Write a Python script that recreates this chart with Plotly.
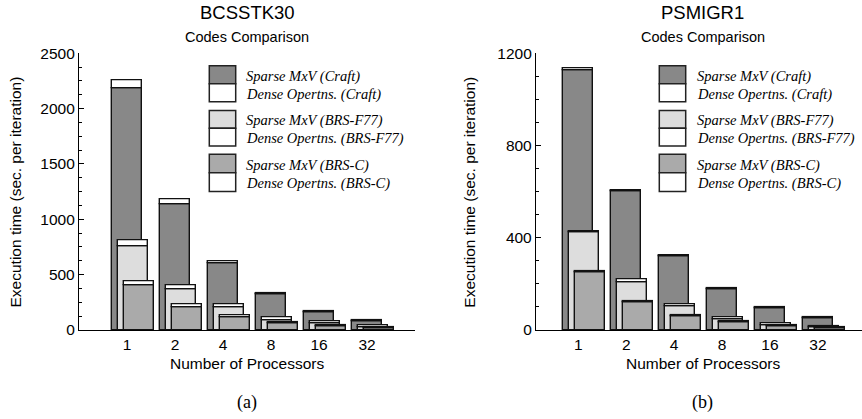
import plotly.graph_objects as go

W, H = 862, 419

procs = ["1", "2", "4", "8", "16", "32"]

# BCSSTK30 timings (sec. per iteration)
bc_craft_sparse = [2185, 1140, 602, 320, 160, 80]
bc_craft_dense = [75, 40, 18, 8, 7, 5]
bc_f77_sparse = [752, 367, 205, 92, 60, 28]
bc_f77_dense = [54, 35, 27, 24, 15, 17]
bc_c_sparse = [406, 205, 112, 60, 35, 16]
bc_c_dense = [36, 25, 21, 11, 10, 8]

# PSMIGR1 timings (sec. per iteration)
ps_craft_sparse = [1127, 600, 320, 178, 94, 50]
ps_craft_dense = [10, 7, 5, 4, 3, 3]
ps_f77_sparse = [425, 205, 102, 46, 22, 12]
ps_f77_dense = [4, 15, 9, 10, 6, 5]
ps_c_sparse = [250, 120, 59, 33, 17, 8]
ps_c_dense = [3, 4, 3, 3, 3, 2]

code_names = ["Craft", "BRS-F77", "BRS-C"]
sparse_colors = ["#888888", "#dddddd", "#aaaaaa"]
dense_color = "#ffffff"
bar_offsets = [-0.3125, -0.1875, -0.0625]
bar_width = 0.625

SANS = "Liberation Sans, Arial, sans-serif"
SERIF = "Liberation Serif, Times New Roman, serif"

fig = go.Figure()


def add_panel(xa, ya, series):
    for (sparse, dense), color, off in zip(series, sparse_colors, bar_offsets):
        fig.add_trace(go.Bar(
            x=procs, y=sparse, xaxis=xa, yaxis=ya,
            offset=off, width=bar_width,
            marker=dict(color=color, line=dict(color="#111111", width=1.4)),
            showlegend=False, hoverinfo="skip"))
        fig.add_trace(go.Bar(
            x=procs, y=dense, base=sparse, xaxis=xa, yaxis=ya,
            offset=off, width=bar_width,
            marker=dict(color=dense_color, line=dict(color="#111111", width=1.4)),
            showlegend=False, hoverinfo="skip"))


add_panel("x", "y", [(bc_craft_sparse, bc_craft_dense),
                     (bc_f77_sparse, bc_f77_dense),
                     (bc_c_sparse, bc_c_dense)])
add_panel("x2", "y2", [(ps_craft_sparse, ps_craft_dense),
                       (ps_f77_sparse, ps_f77_dense),
                       (ps_c_sparse, ps_c_dense)])


def px(x):
    return x / W


def py(y):
    return 1 - y / H


y_dom = [py(330), py(53.3)]

axis_common = dict(
    showgrid=False, zeroline=False, showline=True, linecolor="black",
    linewidth=1.3, automargin=False,
    tickfont=dict(family=SANS, size=15.5, color="black"),
)

fig.update_layout(
    width=W, height=H,
    margin=dict(l=0, r=0, t=0, b=0, pad=0, autoexpand=False),
    paper_bgcolor="white", plot_bgcolor="white",
    barmode="overlay", bargap=0,
    xaxis=dict(domain=[px(79), px(415)], range=[-1, 6], type="category",
               ticks="", anchor="y", **axis_common),
    yaxis=dict(domain=y_dom, range=[0, 2500], tickvals=[0, 500, 1000, 1500, 2000, 2500],
               ticks="inside", ticklen=5, tickcolor="black", anchor="x",
               minor=dict(ticks="inside", dtick=125, ticklen=3, tickcolor="black"),
               **axis_common),
    xaxis2=dict(domain=[px(536), 1.0], range=[-0.883, 5.92], type="category",
                ticks="", anchor="y2", **axis_common),
    yaxis2=dict(domain=y_dom, range=[0, 1200], tickvals=[0, 400, 800, 1200],
                ticks="inside", ticklen=5, tickcolor="black", anchor="x2",
                minor=dict(ticks="inside", dtick=100, ticklen=3, tickcolor="black"),
                **axis_common),
)

annotations = []
shapes = []


def text(x, y, s, size, family=SANS, angle=0, xanchor="center"):
    annotations.append(dict(
        x=px(x), y=py(y), xref="paper", yref="paper", text=s, showarrow=False,
        font=dict(family=family, size=size, color="black"),
        textangle=angle, xanchor=xanchor, yanchor="middle"))


for cx, title, xl, tag in [(247, "BCSSTK30", 18.5, "(a)"), (702.7, "PSMIGR1", 472.7, "(b)")]:
    text(cx, 12.5, title, 18.5)
    text(cx, 37, "Codes Comparison", 14.5)
    text(cx, 363.5, "Number of Processors", 15.5)
    text(xl - 3, 192, "Execution time (sec. per iteration)", 15.5, angle=-90)
    text(cx, 402, tag, 18, family=SERIF)

# legend boxes: sparse part on top, dense part below
legend_groups = [(65.7, 83.7, 101.7), (110.5, 128.2, 146), (154.3, 172.7, 191.5)]
for bx0, bx1, tx in [(209.3, 235.7, 244.3), (659.3, 685.7, 695)]:
    for (top, mid, bot), name, color in zip(legend_groups, code_names, sparse_colors):
        shapes.append(dict(type="rect", xref="paper", yref="paper",
                           x0=px(bx0), x1=px(bx1), y0=py(mid), y1=py(top),
                           fillcolor=color, line=dict(color="#222222", width=1.5)))
        shapes.append(dict(type="rect", xref="paper", yref="paper",
                           x0=px(bx0), x1=px(bx1), y0=py(bot), y1=py(mid),
                           fillcolor=dense_color, line=dict(color="#222222", width=1.5)))
        text(tx, (top + mid) / 2 + 1.5, "<i>Sparse MxV (%s)</i>" % name, 14.5,
             family=SERIF, xanchor="left")
        text(tx, (mid + bot) / 2 + 1.5, "<i>Dense Opertns. (%s)</i>" % name, 14.5,
             family=SERIF, xanchor="left")

fig.update_layout(annotations=annotations, shapes=shapes)

fig.write_html("out.html")
